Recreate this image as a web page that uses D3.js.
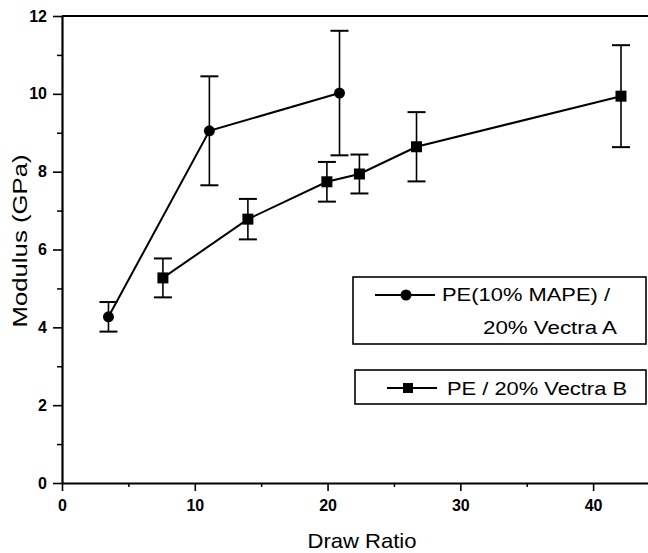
<!DOCTYPE html>
<html>
<head>
<meta charset="utf-8">
<script src="https://cdn.jsdelivr.net/npm/d3@7"></script>
<style>
    body { margin: 0; background: #fff; }
    svg { display: block; }
    text { font-family: "Liberation Sans", Arial, sans-serif; fill: #000; }
</style>
</head>
<body>
<script>
// series A - PE(10% MAPE) / 20% Vectra A:
var drawA = [3.5, 11.1, 20.9];
var modA = [4.27, 9.05, 10.02];
var errA = [0.38, 1.4, 1.6];

// series B - PE / 20% Vectra B:
var drawB = [7.6, 14.0, 19.95, 22.4, 26.7, 42.1];
var modB = [5.27, 6.78, 7.74, 7.94, 8.64, 9.94];
var errB = [0.5, 0.52, 0.51, 0.5, 0.89, 1.31];

// tick values:
var xTicks = [0, 10, 20, 30, 40];
var xMinor = [5, 15, 25, 35];
var yTicks = [0, 2, 4, 6, 8, 10, 12];
var yMinor = [1, 3, 5, 7, 9, 11];

// legend labels:
var legendA = ["PE(10% MAPE) /", "20% Vectra A"];
var legendB = "PE / 20% Vectra B";

window.onload = function(){

    var w = 648, h = 553;

    var svg = d3.select("body")
        .append("svg")
        .attr("width", w)
        .attr("height", h);

    // scales (chart runs past the right edge, so it is cut off):
    var x = d3.scaleLinear()
        .domain([0, 45])
        .range([62, 659.5]);

    var y = d3.scaleLinear()
        .domain([0, 12])
        .range([483, 16]);

    // minor ticks first:
    svg.append("g")
        .attr("transform", "translate(0," + y(0) + ")")
        .call(d3.axisBottom(x).tickValues(xMinor).tickSize(4).tickFormat(""))
        .call(function(g){ g.select(".domain").remove(); })
        .selectAll("line").attr("stroke-width", 1.5);

    svg.append("g")
        .attr("transform", "translate(" + x(0) + ",0)")
        .call(d3.axisLeft(y).tickValues(yMinor).tickSize(5).tickFormat(""))
        .call(function(g){ g.select(".domain").remove(); })
        .selectAll("line").attr("stroke-width", 1.5);

    // x axis:
    var xAxis = svg.append("g")
        .attr("transform", "translate(0," + y(0) + ")")
        .call(d3.axisBottom(x).tickValues(xTicks).tickSize(8).tickPadding(9).tickSizeOuter(0));
    xAxis.select(".domain").attr("stroke-width", 2.2);
    xAxis.selectAll("line").attr("stroke-width", 1.6);
    xAxis.selectAll("text")
        .style("font-size", "16px")
        .style("font-weight", "bold")
        .style("font-family", "'Liberation Sans', Arial, sans-serif");

    // y axis:
    var yAxis = svg.append("g")
        .attr("transform", "translate(" + x(0) + ",0)")
        .call(d3.axisLeft(y).tickValues(yTicks).tickSize(9).tickPadding(6).tickSizeOuter(0));
    yAxis.select(".domain").attr("stroke-width", 2.2);
    yAxis.selectAll("line").attr("stroke-width", 1.6);
    yAxis.selectAll("text")
        .style("font-size", "16px")
        .style("font-weight", "bold")
        .style("font-family", "'Liberation Sans', Arial, sans-serif");

    // top frame line:
    svg.append("line")
        .attr("x1", x(0)).attr("x2", x(45))
        .attr("y1", y(12)).attr("y2", y(12))
        .attr("stroke", "#000")
        .attr("stroke-width", 2.2);

    // axis titles:
    svg.append("text")
        .attr("x", 362)
        .attr("y", 548)
        .attr("text-anchor", "middle")
        .attr("textLength", 109)
        .attr("lengthAdjust", "spacingAndGlyphs")
        .style("font-size", "21px")
        .text("Draw Ratio");

    svg.append("text")
        .attr("transform", "translate(27,241) rotate(-90)")
        .attr("text-anchor", "middle")
        .attr("textLength", 173)
        .attr("lengthAdjust", "spacingAndGlyphs")
        .style("font-size", "21px")
        .text("Modulus (GPa)");

    // helper - draws a series with error bars:
    function drawSeries(xs, ys, es, shape){
        var g = svg.append("g");
        var pts = xs.map(function(d, i){ return { x: d, y: ys[i], e: es[i] }; });

        // error bars:
        var bars = g.selectAll(".err")
            .data(pts)
            .enter()
            .append("g")
            .attr("class", "err")
            .attr("stroke", "#000")
            .attr("stroke-width", 1.6);
        bars.append("line")
            .attr("x1", function(d){ return x(d.x); })
            .attr("x2", function(d){ return x(d.x); })
            .attr("y1", function(d){ return y(d.y + d.e); })
            .attr("y2", function(d){ return y(d.y - d.e); });
        bars.append("line")
            .attr("x1", function(d){ return x(d.x) - 9; })
            .attr("x2", function(d){ return x(d.x) + 9; })
            .attr("y1", function(d){ return y(d.y + d.e); })
            .attr("y2", function(d){ return y(d.y + d.e); })
            .attr("stroke-width", 2);
        bars.append("line")
            .attr("x1", function(d){ return x(d.x) - 9; })
            .attr("x2", function(d){ return x(d.x) + 9; })
            .attr("y1", function(d){ return y(d.y - d.e); })
            .attr("y2", function(d){ return y(d.y - d.e); })
            .attr("stroke-width", 2);

        // connecting line:
        var line = d3.line()
            .x(function(d){ return x(d.x); })
            .y(function(d){ return y(d.y); });
        g.append("path")
            .datum(pts)
            .attr("d", line)
            .attr("fill", "none")
            .attr("stroke", "#000")
            .attr("stroke-width", 2);

        // markers:
        g.selectAll(".mark")
            .data(pts)
            .enter()
            .append("path")
            .attr("class", "mark")
            .attr("transform", function(d){ return "translate(" + x(d.x) + "," + y(d.y) + ")"; })
            .attr("d", d3.symbol().type(shape).size(shape === d3.symbolSquare ? 121 : 95))
            .attr("fill", "#000");
    }

    drawSeries(drawA, modA, errA, d3.symbolCircle);
    drawSeries(drawB, modB, errB, d3.symbolSquare);

    // legend A:
    var legA = svg.append("g");
    legA.append("rect")
        .attr("x", 353).attr("y", 277)
        .attr("width", 293).attr("height", 67)
        .attr("fill", "#fff")
        .attr("stroke", "#000")
        .attr("stroke-width", 1.6);
    legA.append("line")
        .attr("x1", 375).attr("x2", 435)
        .attr("y1", 295).attr("y2", 295)
        .attr("stroke", "#000").attr("stroke-width", 2);
    legA.append("path")
        .attr("transform", "translate(406,295)")
        .attr("d", d3.symbol().type(d3.symbolCircle).size(95));
    legA.selectAll(".lt")
        .data(legendA)
        .enter()
        .append("text")
        .attr("class", "lt")
        .attr("x", function(d, i){ return i === 0 ? 442 : 483; })
        .attr("y", function(d, i){ return i === 0 ? 301 : 334; })
        .attr("textLength", function(d, i){ return i === 0 ? 168 : 134; })
        .attr("lengthAdjust", "spacingAndGlyphs")
        .style("font-size", "18px")
        .text(function(d){ return d; });

    // legend B:
    var legB = svg.append("g");
    legB.append("rect")
        .attr("x", 355).attr("y", 370)
        .attr("width", 291).attr("height", 34)
        .attr("fill", "#fff")
        .attr("stroke", "#000")
        .attr("stroke-width", 1.6);
    legB.append("line")
        .attr("x1", 387).attr("x2", 437)
        .attr("y1", 388).attr("y2", 388)
        .attr("stroke", "#000").attr("stroke-width", 2);
    legB.append("path")
        .attr("transform", "translate(408,388)")
        .attr("d", d3.symbol().type(d3.symbolSquare).size(100));
    legB.append("text")
        .attr("x", 447)
        .attr("y", 395)
        .attr("textLength", 180)
        .attr("lengthAdjust", "spacingAndGlyphs")
        .style("font-size", "18px")
        .text(legendB);
};
</script>
</body>
</html>
